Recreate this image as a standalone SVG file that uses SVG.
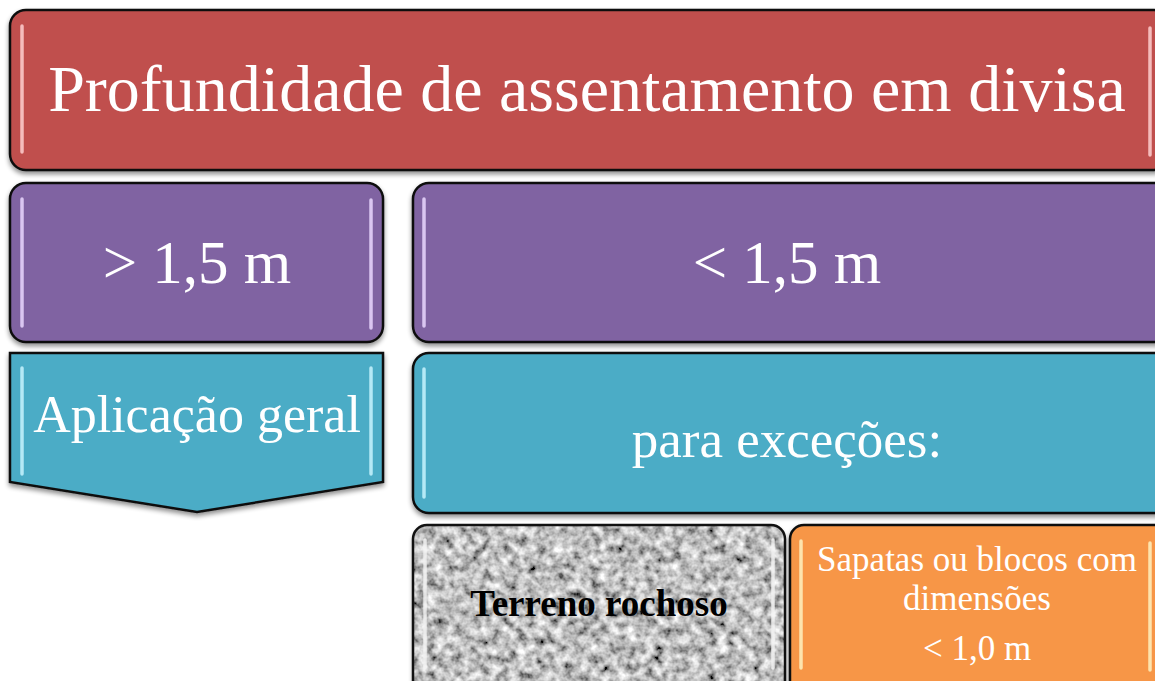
<svg xmlns="http://www.w3.org/2000/svg" width="1155" height="681" viewBox="0 0 1155 681">
<style>
.box{stroke:#111;stroke-width:2.5}
.t{font-family:"Liberation Serif","DejaVu Serif",serif;fill:#fff;text-anchor:middle}
.hl{stroke-width:3.5;stroke-linecap:round;opacity:.85}
</style>
<defs>
<filter id="sh" x="-5%" y="-5%" width="110%" height="120%">
<feGaussianBlur in="SourceAlpha" stdDeviation="2.5"/>
<feOffset dy="3" result="b"/>
<feComponentTransfer><feFuncA type="linear" slope="0.45"/></feComponentTransfer>
<feMerge><feMergeNode/><feMergeNode in="SourceGraphic"/></feMerge>
</filter>
<filter id="rock" x="0" y="0" width="100%" height="100%">
<feTurbulence type="fractalNoise" baseFrequency="0.11" numOctaves="3" seed="7"/>
<feColorMatrix type="matrix" values="1.5 0 0 0 -0.23  1.5 0 0 0 -0.23  1.5 0 0 0 -0.23  0 0 0 0 1" result="n"/>
<feComposite in="n" in2="SourceGraphic" operator="in"/>
</filter>
<clipPath id="rockclip"><rect x="413" y="525" width="372" height="170" rx="14"/></clipPath>
</defs>

<g id="title">
<rect class="box" x="10" y="10" width="1160" height="160" rx="16" fill="#C0504D" filter="url(#sh)"/>
<line class="hl" x1="22" y1="26" x2="22" y2="152" stroke="#ffd0d0"/>
<line class="hl" x1="1150" y1="28" x2="1150" y2="155" stroke="#ffd0d0"/>
<text class="t" x="587" y="111" font-size="66">Profundidade de assentamento em divisa</text>
</g>

<g id="gt15">
<rect class="box" x="10" y="183" width="373" height="159" rx="16" fill="#8064A2" filter="url(#sh)"/>
<line class="hl" x1="22" y1="199" x2="22" y2="326" stroke="#ead8ff"/>
<line class="hl" x1="371" y1="200" x2="371" y2="328" stroke="#ead8ff"/>
<text class="t" x="197" y="283" font-size="61">&gt; 1,5 m</text>
</g>

<g id="lt15">
<rect class="box" x="413" y="183" width="760" height="159" rx="16" fill="#8064A2" filter="url(#sh)"/>
<line class="hl" x1="424" y1="199" x2="424" y2="326" stroke="#ead8ff"/>
<text class="t" x="787" y="283" font-size="61">&lt; 1,5 m</text>
</g>

<g id="geral">
<path class="box" d="M10,353 H383 V482 L197,512 L10,482 Z" fill="#4BACC6" filter="url(#sh)"/>
<line class="hl" x1="22" y1="368" x2="22" y2="474" stroke="#c8f4ff"/>
<line class="hl" x1="371" y1="368" x2="371" y2="474" stroke="#c8f4ff"/>
<text class="t" x="197" y="432" font-size="52">Aplicação geral</text>
</g>

<g id="excecoes">
<rect class="box" x="413" y="353" width="760" height="160" rx="16" fill="#4BACC6" filter="url(#sh)"/>
<line class="hl" x1="424" y1="369" x2="424" y2="497" stroke="#c8f4ff"/>
<text class="t" x="787" y="457" font-size="53">para exceções:</text>
</g>

<g id="rochoso">
<rect x="413" y="525" width="372" height="170" rx="14" fill="#aaa" filter="url(#sh)"/>
<g clip-path="url(#rockclip)"><rect x="413" y="525" width="372" height="170" fill="#fff" filter="url(#rock)"/></g>
<rect class="box" x="413" y="525" width="372" height="170" rx="14" fill="none"/>
<line class="hl" x1="425" y1="540" x2="425" y2="668" stroke="#f4f4f4"/>
<line class="hl" x1="773" y1="540" x2="773" y2="668" stroke="#f4f4f4"/>
<text x="599" y="616" font-size="37" font-weight="bold" text-anchor="middle" font-family="'Liberation Serif','DejaVu Serif',serif" fill="#000">Terreno rochoso</text>
</g>

<g id="sapatas">
<rect class="box" x="790" y="525" width="380" height="170" rx="14" fill="#F79646" filter="url(#sh)"/>
<line class="hl" x1="801" y1="541" x2="801" y2="668" stroke="#fff2c0"/>
<line class="hl" x1="1150" y1="543" x2="1150" y2="670" stroke="#fff2c0"/>
<text class="t" x="977" y="571" font-size="35">Sapatas ou blocos com</text>
<text class="t" x="977" y="610" font-size="35">dimensões</text>
<text class="t" x="977" y="660" font-size="35">&lt; 1,0 m</text>
</g>

<g id="connectors"/>
</svg>
